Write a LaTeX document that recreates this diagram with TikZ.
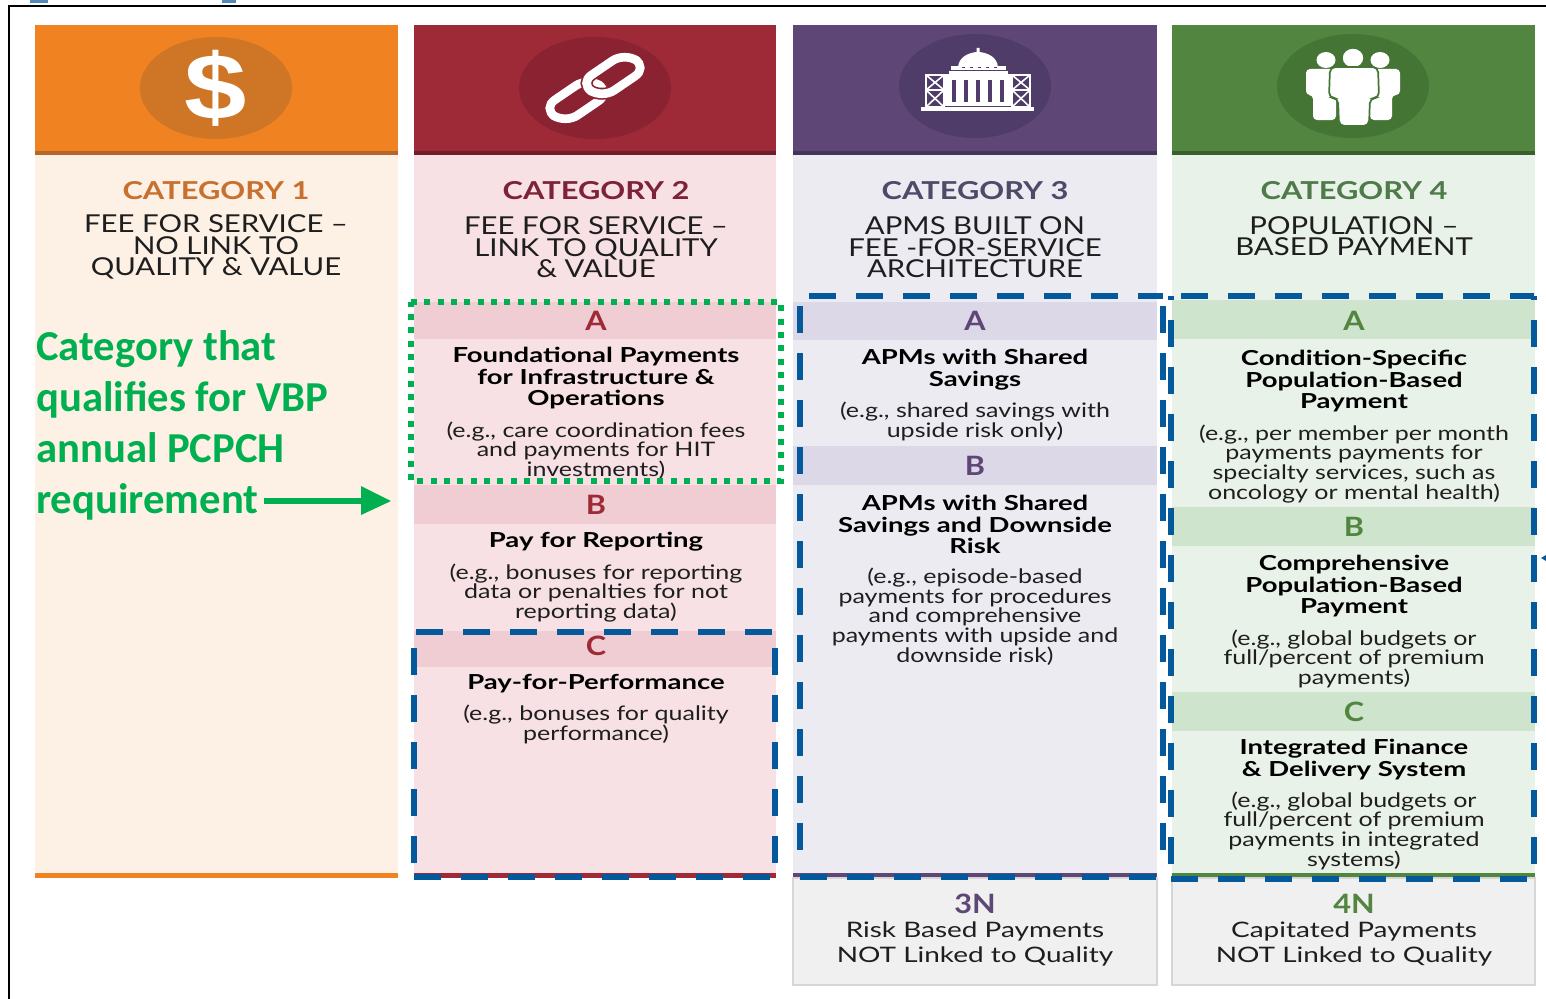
\documentclass[tikz,border=0pt]{standalone}
\usepackage{fontspec}
\setmainfont{Lato}
\newfontfamily\titlef[FakeStretch=1.25]{Lato}
\newfontfamily\namef[FakeStretch=1.19]{Lato}
\newfontfamily\boldf[FakeStretch=1.33]{Lato}
\newfontfamily\exf[FakeStretch=1.25]{Lato}
\newfontfamily\nf[FakeStretch=1.31]{Lato}
\newfontfamily\letterf[FakeStretch=1.15]{Lato}
\newfontfamily\dollarf[FakeStretch=1.2]{Liberation Sans}
\newfontfamily\callout{Carlito}
\definecolor{ohead}{HTML}{F08222}\definecolor{rhead}{HTML}{9E2A38}\definecolor{phead}{HTML}{5E4676}\definecolor{ghead}{HTML}{52853F}
\definecolor{ocirc}{HTML}{CF7526}\definecolor{rcirc}{HTML}{8A2232}\definecolor{pcirc}{HTML}{4F3C68}\definecolor{gcirc}{HTML}{457535}
\definecolor{oband}{HTML}{B5662A}\definecolor{rband}{HTML}{6F1F2A}\definecolor{pband}{HTML}{44345A}\definecolor{gband}{HTML}{38602C}
\definecolor{obody}{HTML}{FDF0E4}\definecolor{rbody}{HTML}{F7E1E5}\definecolor{pbody}{HTML}{ECEBF2}\definecolor{gbody}{HTML}{E9F2E8}
\definecolor{redrow}{HTML}{EFCDD2}\definecolor{purprow}{HTML}{DDD8E8}\definecolor{grnrow}{HTML}{CFE4CD}
\definecolor{otitle}{HTML}{C8702E}\definecolor{rtitle}{HTML}{7E2238}\definecolor{ptitle}{HTML}{4F4A68}\definecolor{gtitle}{HTML}{4F7A4A}
\definecolor{dashblue}{HTML}{04589C}\definecolor{vbpgreen}{HTML}{00B050}\definecolor{ink}{HTML}{1E1E1E}
\tikzset{
 cattitle/.style={font=\titlef\fontsize{18.5pt}{22pt}\selectfont\bfseries},
 catname/.style={font=\namef\fontsize{18.5pt}{16.2pt}\selectfont,align=center,text=ink,yshift=-0.2pt},
 rowletter/.style={font=\letterf\fontsize{20pt}{22pt}\selectfont\bfseries},
 boldtext/.style={font=\boldf\fontsize{15.5pt}{16.1pt}\selectfont\bfseries,align=center,text=black,yshift=-1.1pt},
 extext/.style={font=\exf\fontsize{15pt}{14.7pt}\selectfont,align=center,text=ink,yshift=-0.5pt},
 ntext/.style={font=\nf\fontsize{16pt}{18.8pt}\selectfont,align=center,text=ink,yshift=-1pt},
 dashside/.style={draw=dashblue,line width=4.5pt,dash pattern=on 20.25pt off 15pt},
 icon/.style={fill=white,draw=none}
}
\newcommand{\colbox}[5]{% x1 x2 head band body
 \fill[#5] (#1,155) rectangle (#2,873);
 \fill[#3] (#1,25) rectangle (#2,151);
 \fill[#4] (#1,151) rectangle (#2,155);
 \fill[#3] (#1,873) rectangle (#2,878);
}
\newcommand{\dbox}[6]{% x1 y1 x2 y2 top-offset side-offset
 \draw[dashside] (#1,#4) -- (#3,#4);
 \draw[dashside] (#1+#5,#2) -- (#3,#2);
 \draw[dashside] (#1,#4-#6) -- (#1,#2);
 \draw[dashside] (#3,#4-#6) -- (#3,#2);
}
\begin{document}
\begin{tikzpicture}[x=0.75pt,y=-0.75pt]
\useasboundingbox (0,0) rectangle (1546,999);
\fill[white] (0,0) rectangle (1546,999);
% cut-off heading and outer frame
\fill[dashblue!70] (30,0) rectangle (48,3);
\fill[dashblue!70] (222,0) rectangle (236,3);
\draw[black,line width=1.5pt] (9,999) -- (9,6) -- (1546,6);
% columns
\colbox{35}{398}{ohead}{oband}{obody}
\colbox{414}{776}{rhead}{rband}{rbody}
\colbox{793}{1157}{phead}{pband}{pbody}
\colbox{1172}{1535}{ghead}{gband}{gbody}
\fill[ocirc] (216,88) ellipse [x radius=76,y radius=51];
\fill[rcirc] (595,88) ellipse [x radius=76,y radius=51];
\fill[pcirc] (975,86) ellipse [x radius=76,y radius=52];
\fill[gcirc] (1353,86) ellipse [x radius=76,y radius=52];
% dollar icon
\node[text=white,font=\dollarf\fontsize{70pt}{70pt}\selectfont\bfseries] (dollar) at (216,88) {\$};
% link icon
\begin{scope}[shift={(595,88)},yscale=.68,rotate=45]
 \draw[white,line width=6.5pt,rounded corners=11pt] (-58,-16) rectangle (6,16);
 \draw[rcirc,line width=9pt,rounded corners=11pt] (-6,-16) rectangle (58,16);
 \draw[white,line width=6.5pt,rounded corners=11pt] (-6,-16) rectangle (58,16);
\end{scope}
% building icon
\fill[icon] (958,67) .. controls (959,57) and (968,53) .. (976.5,52) -- (976.5,48) -- (979.5,48) -- (979.5,52) .. controls (988,53) and (997,57) .. (998,67) -- cycle;
\fill[icon] (951,66) rectangle (1006,70);
\foreach \dx in {963,971,979,987,995}{\fill[pcirc] (\dx-1,67) rectangle (\dx+2,68.5);}
\fill[icon] (945,74) rectangle (1012,106);
\fill[icon] (949,71) rectangle (1008,75);
\foreach \dx in {954,966,978,990,1002}{\fill[pcirc] (\dx-2,80) rectangle (\dx+2,102);}
\foreach \sx in {926,1012}{
 \draw[white,line width=1.2pt] (\sx,75) rectangle (\sx+18,90) (\sx,90) rectangle (\sx+18,107)
  (\sx,75) -- (\sx+18,90) (\sx+18,75) -- (\sx,90) (\sx,90) -- (\sx+18,107) (\sx+18,90) -- (\sx,107);
}
\fill[icon] (921,107) rectangle (1034,111);
% people icon
\fill[icon] (1326,60) ellipse [x radius=9.5,y radius=8];
\fill[icon] (1380,60) ellipse [x radius=9.5,y radius=8];
\fill[icon,rounded corners=3pt] (1306,69) -- (1336,69) -- (1336,120) -- (1313,120) -- (1313,95) -- (1306,95) -- cycle;
\fill[icon,rounded corners=3pt] (1400,69) -- (1370,69) -- (1370,120) -- (1392,120) -- (1392,95) -- (1400,95) -- cycle;
\fill[icon,draw=gcirc,line width=1pt] (1353,58) ellipse [x radius=11,y radius=10];
\fill[icon,draw=gcirc,line width=1.3pt,rounded corners=4pt] (1330,67) -- (1378,67) -- (1379,98) -- (1370,98) -- (1369,126) -- (1339,126) -- (1338,98) -- (1329,98) -- cycle;
% row bands
\fill[redrow] (414,302) rectangle (776,339);
\fill[redrow] (414,485) rectangle (776,524);
\fill[redrow] (414,631) rectangle (776,667);
\fill[purprow] (793,302) rectangle (1157,340);
\fill[purprow] (793,446) rectangle (1157,485);
\fill[grnrow] (1172,300) rectangle (1535,339);
\fill[grnrow] (1172,507) rectangle (1535,546);
\fill[grnrow] (1172,692) rectangle (1535,731);
% titles
\node[cattitle,text=otitle] (t1) at (216,191) {CATEGORY 1};
\node[cattitle,text=rtitle] (t2) at (596,191) {CATEGORY 2};
\node[cattitle,text=ptitle] (t3) at (975,191) {CATEGORY 3};
\node[cattitle,text=gtitle] (t4) at (1354,191) {CATEGORY 4};
\node[catname] (n1) at (216,247) {FEE FOR SERVICE –\\NO LINK TO\\QUALITY \& VALUE};
\node[catname] (n2) at (596,247) {FEE FOR SERVICE –\\LINK TO QUALITY\\\& VALUE};
\node[catname] (n3) at (975,247) {APMS BUILT ON\\FEE -FOR-SERVICE\\ARCHITECTURE};
\node[catname] (n4) at (1354,236) {POPULATION –\\BASED PAYMENT};
% category 2
\node[rowletter,text=rhead] (c2a) at (596,321) {A};
\node[boldtext] (c2at) at (596,377) {Foundational Payments\\for Infrastructure \&\\Operations};
\node[extext] (c2ae) at (596,450) {(e.g., care coordination fees\\and payments for HIT\\investments)};
\node[rowletter,text=rhead] (c2b) at (596,505) {B};
\node[boldtext] (c2bt) at (596,540) {Pay for Reporting};
\node[extext] (c2be) at (596,592) {(e.g., bonuses for reporting\\data or penalties for not\\reporting data)};
\node[rowletter,text=rhead] (c2c) at (596,646) {C};
\node[boldtext] (c2ct) at (596,682) {Pay-for-Performance};
\node[extext] (c2ce) at (596,724) {(e.g., bonuses for quality\\performance)};
% category 3
\node[rowletter,text=phead] (c3a) at (975,321) {A};
\node[boldtext] (c3at) at (975,368) {APMs with Shared\\Savings};
\node[extext] (c3ae) at (975,421) {(e.g., shared savings with\\upside risk only)};
\node[rowletter,text=phead] (c3b) at (975,466) {B};
\node[boldtext] (c3bt) at (975,523) {APMs with Shared\\Savings and Downside\\Risk};
\node[extext] (c3be) at (975,616) {(e.g., episode-based\\payments for procedures\\and comprehensive\\payments with upside and\\downside risk)};
% category 4
\node[rowletter,text=ghead] (c4a) at (1354,321) {A};
\node[boldtext] (c4at) at (1354,380) {Condition-Specific\\Population-Based\\Payment};
\node[extext] (c4ae) at (1354,463) {(e.g., per member per month\\payments payments for\\specialty services, such as\\oncology or mental health)};
\node[rowletter,text=ghead] (c4b) at (1354,527) {B};
\node[boldtext] (c4bt) at (1354,585) {Comprehensive\\Population-Based\\Payment};
\node[extext] (c4be) at (1354,658) {(e.g., global budgets or\\full/percent of premium\\payments)};
\node[rowletter,text=ghead] (c4c) at (1354,712) {C};
\node[boldtext] (c4ct) at (1354,758) {Integrated Finance\\\& Delivery System};
\node[extext] (c4ce) at (1354,830) {(e.g., global budgets or\\full/percent of premium\\payments in integrated\\systems)};
% N boxes
\draw[fill=black!6,draw=black!16,line width=1pt] (793,878) rectangle (1157,985);
\draw[fill=black!6,draw=black!16,line width=1pt] (1172,878) rectangle (1535,985);
\node[rowletter,text=phead] (n3n) at (975,904) {3N};
\node[ntext] (n3t) at (975,943) {Risk Based Payments\\NOT Linked to Quality};
\node[rowletter,text=ghead] (n4n) at (1354,904) {4N};
\node[ntext] (n4t) at (1354,943) {Capitated Payments\\NOT Linked to Quality};
% qualification outlines
\draw[vbpgreen,line width=4.5pt,dash pattern=on 4.5pt off 5.5pt] (411,302) -- (781,302) -- (781,481) -- (411,481) -- cycle;
\dbox{414}{632}{775}{877}{2}{14}
\dbox{800}{296}{1163}{877}{9}{27}
\dbox{1171}{296}{1534}{879}{10}{15}
% callout
\node[anchor=north west,inner sep=0pt,align=left,text=vbpgreen,font=\callout\fontsize{32pt}{38.25pt}\selectfont\bfseries] (callout) at (36,330) {Category that\\qualifies for VBP\\annual PCPCH\\requirement};
\coordinate (calloutstart) at (264,501);
\coordinate (calloutend) at (391,501);
\draw[vbpgreen,line width=3.8pt] (calloutstart) -- (362,501);
\fill[vbpgreen] (calloutend) -- (361,486) -- (361,515) -- cycle;
% clipped pointer at right edge
\fill[dashblue] (1541,558) -- (1546,555) -- (1546,561) -- cycle;
\end{tikzpicture}
\end{document}
